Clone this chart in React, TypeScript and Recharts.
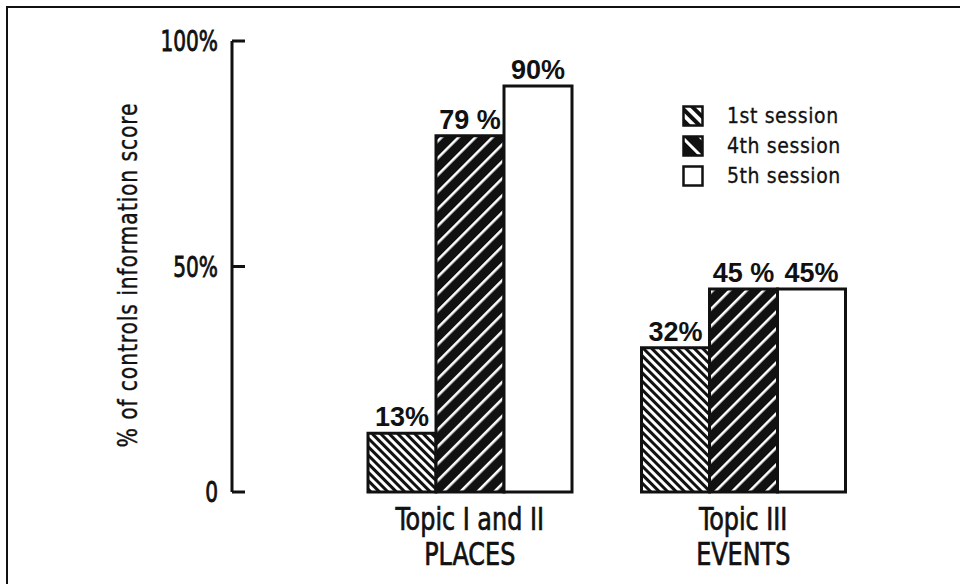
import { BarChart, Bar, XAxis, YAxis, LabelList, Label } from "recharts"

// values
const TOPICS = ["Topic I and II", "Topic III"]
const TOPIC_SUB = ["PLACES", "EVENTS"]
const SERIES = ["1st session", "4th session", "5th session"]
const SESSION_1 = [13, 32]
const SESSION_4 = [79, 45]
const SESSION_5 = [90, 45]
const LABELS_1 = ["13%", "32%"]
const LABELS_4 = ["79 %", "45 %"]
const LABELS_5 = ["90%", "45%"]
const Y_TICKS = [0, 50, 100]
const Y_TICK_LABELS = ["0", "50%", "100%"]

const INK = "#111"
const NARROW = '"Liberation Sans Narrow", "DejaVu Sans Condensed", "Arial Narrow", sans-serif'
const BOLD = '"Liberation Sans", Arial, sans-serif'

const FILLS = ["url(#hatch1)", "url(#hatch4)", "#fff"]
const LEGEND_FILLS = ["url(#hatchL1)", "url(#hatchL4)", "#fff"]

const data = TOPICS.map((topic, i) => ({
  topic,
  s1: SESSION_1[i],
  s4: SESSION_4[i],
  s5: SESSION_5[i],
  l1: LABELS_1[i],
  l4: LABELS_4[i],
  l5: LABELS_5[i],
}))

function YTick(props: any) {
  const { x, y, payload } = props
  const idx = Y_TICKS.indexOf(payload.value)
  return (
    <g>
      <line x1={x + 14} x2={x + 27} y1={y} y2={y} stroke={INK} strokeWidth={3} />
      <text
        transform={`translate(${x},${y}) scale(0.8,1)`}
        dy="0.36em"
        textAnchor="end"
        fill={INK}
        stroke={INK}
        strokeWidth={0.8}
        fontSize={28}
        fontFamily={NARROW}
      >
        {Y_TICK_LABELS[idx] ?? payload.value}
      </text>
    </g>
  )
}

function XTick(props: any) {
  const { x, y, payload } = props
  const idx = TOPICS.indexOf(payload.value)
  return (
    <g fill={INK} stroke={INK} strokeWidth={0.7} fontFamily={NARROW} fontSize={32} textAnchor="middle">
      <text transform={`translate(${x},${y + 38}) scale(0.83,1)`}>{payload.value}</text>
      <text transform={`translate(${x},${y + 73}) scale(0.83,1)`}>{TOPIC_SUB[idx]}</text>
    </g>
  )
}

function LegendBox() {
  return (
    <div
      style={{
        position: "absolute",
        left: 682,
        top: 101,
        fontFamily: NARROW,
        fontSize: 21,
        color: INK,
        letterSpacing: 0.6,
        WebkitTextStroke: "0.3px #111",
      }}
    >
      {SERIES.map((name, i) => (
        <div key={name} style={{ display: "flex", alignItems: "center", height: 30 }}>
          <svg width={23} height={22} style={{ marginRight: 22 }}>
            <rect x={1.5} y={1.5} width={19} height={19} fill={LEGEND_FILLS[i]} stroke={INK} strokeWidth={2.5} />
          </svg>
          <span>{name}</span>
        </div>
      ))}
    </div>
  )
}

const labelStyle = { fill: INK, fontSize: 27, fontWeight: 700, fontFamily: BOLD }

export default function App() {
  return (
    <div style={{ position: "absolute", left: 0, top: 0, width: 960, height: 584, background: "#fff", overflow: "hidden" }}>
      <div
        style={{
          position: "absolute",
          left: 6,
          top: 6,
          width: 960,
          height: 600,
          borderTop: `2px solid ${INK}`,
          borderLeft: `2px solid ${INK}`,
        }}
      />
      <BarChart
        width={960}
        height={584}
        data={data}
        margin={{ top: 41, right: 80, bottom: 0, left: 0 }}
        barGap={0}
        barSize={68}
      >
        <defs>
          <pattern id="hatch1" patternUnits="userSpaceOnUse" width="6" height="6" patternTransform="rotate(45)">
            <rect width="6" height="6" fill="#fff" />
            <rect width="6" height="3" fill={INK} />
          </pattern>
          <pattern id="hatch4" patternUnits="userSpaceOnUse" width="12" height="12" patternTransform="rotate(-45)">
            <rect width="12" height="12" fill={INK} />
            <rect width="12" height="2.6" fill="#fff" />
          </pattern>
          <pattern id="hatchL1" patternUnits="userSpaceOnUse" width="8" height="8" patternTransform="rotate(45)">
            <rect width="8" height="8" fill="#fff" />
            <rect width="8" height="4" fill={INK} />
          </pattern>
          <pattern id="hatchL4" patternUnits="userSpaceOnUse" width="13" height="13" patternTransform="rotate(45)">
            <rect width="13" height="13" fill={INK} />
            <rect width="13" height="3" fill="#fff" />
          </pattern>
        </defs>
        <XAxis
          dataKey="topic"
          axisLine={false}
          tickLine={false}
          tickSize={0}
          tickMargin={0}
          height={92}
          padding={{ left: 101, right: 0 }}
          tick={<XTick />}
          interval={0}
        />
        <YAxis
          domain={[0, 100]}
          ticks={Y_TICKS}
          width={232}
          axisLine={{ stroke: INK, strokeWidth: 3 }}
          tickLine={false}
          tickSize={0}
          tickMargin={14}
          tick={<YTick />}
        >
          <Label
            content={() => (
              <text
                transform="translate(128,275) rotate(-90) scale(0.87,1)"
                textAnchor="middle"
                dominantBaseline="central"
                fill={INK}
                stroke={INK}
                strokeWidth={0.4}
                fontSize={26}
                fontFamily={NARROW}
                letterSpacing={1}
              >
                % of controls information score
              </text>
            )}
          />
        </YAxis>
        <Bar dataKey="s1" name={SERIES[0]} fill={FILLS[0]} stroke={INK} strokeWidth={3} isAnimationActive={false}>
          <LabelList dataKey="l1" position="top" offset={7} style={labelStyle} />
        </Bar>
        <Bar dataKey="s4" name={SERIES[1]} fill={FILLS[1]} stroke={INK} strokeWidth={3} isAnimationActive={false}>
          <LabelList dataKey="l4" position="top" offset={7} style={labelStyle} />
        </Bar>
        <Bar dataKey="s5" name={SERIES[2]} fill={FILLS[2]} stroke={INK} strokeWidth={3} isAnimationActive={false}>
          <LabelList dataKey="l5" position="top" offset={7} style={labelStyle} />
        </Bar>
      </BarChart>
      <LegendBox />
    </div>
  )
}
